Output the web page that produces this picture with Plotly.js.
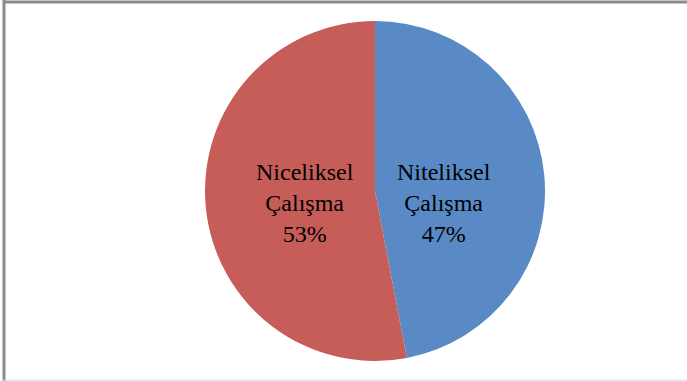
<!DOCTYPE html>
<html>
<head>
<meta charset="utf-8">
<script src="https://cdn.plot.ly/plotly-3.0.1.min.js"></script>
<style>html,body{margin:0;padding:0;background:#fff;}#chart{width:687px;height:381px;}</style>
</head>
<body>
<div id="chart"></div>
<script>
const labels = ["Niteliksel<br>Çalışma", "Niceliksel<br>Çalışma"];
const values = [47, 53];
const colors = ["#5A8AC6", "#C75D58"];

const W = 687, H = 381;
const cx = 375, cy = 191, r = 170;
// label anchor positions in pixels (layout only)
const labelPos = [[444, 203], [305, 203]];

const total = values.reduce((a, b) => a + b, 0);

const data = [{
  type: "pie",
  labels: labels,
  values: values,
  sort: false,
  direction: "clockwise",
  rotation: 0,
  marker: {colors: colors, line: {color: "#ffffff", width: 0}},
  textinfo: "none",
  hoverinfo: "none",
  showlegend: false,
  domain: {x: [(cx - r) / W, (cx + r) / W], y: [1 - (cy + r) / H, 1 - (cy - r) / H]}
}];

const annotations = labels.map((lab, i) => ({
  xref: "paper", yref: "paper",
  x: labelPos[i][0] / W, y: 1 - labelPos[i][1] / H,
  xanchor: "center", yanchor: "middle",
  showarrow: false,
  align: "center",
  text: lab + "<br>" + Math.round(values[i] / total * 100) + "%",
  font: {family: "Liberation Serif, Times New Roman, serif", size: 24, color: "#000000"}
}));

const layout = {
  width: W, height: H,
  margin: {l: 0, r: 0, t: 0, b: 0},
  paper_bgcolor: "#ffffff",
  showlegend: false,
  annotations: annotations,
  shapes: [
    {type: "line", xref: "paper", yref: "paper", x0: 3 / W, x1: 1, y0: 1 - 2 / H, y1: 1 - 2 / H, line: {color: "#8c8c8c", width: 3}},
    {type: "line", xref: "paper", yref: "paper", x0: 4 / W, x1: 4 / W, y0: 0, y1: 1, line: {color: "#8c8c8c", width: 3}},
    {type: "line", xref: "paper", yref: "paper", x0: 3 / W, x1: 1, y0: 1 / H, y1: 1 / H, line: {color: "#dcdcdc", width: 1}}
  ]
};

Plotly.newPlot("chart", data, layout, {displayModeBar: false, staticPlot: true});
</script>
</body>
</html>
